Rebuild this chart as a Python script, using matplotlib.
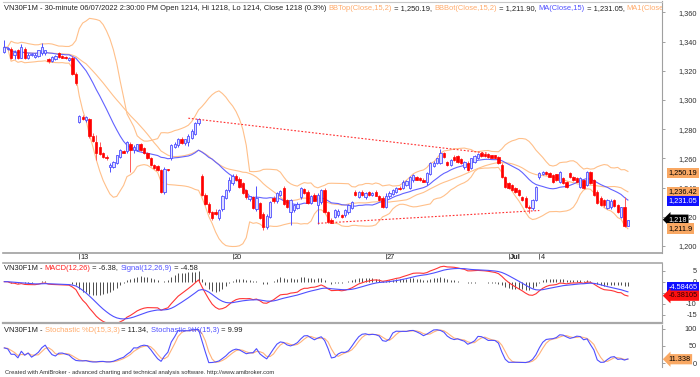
import numpy as np
import pandas as pd
import matplotlib
matplotlib.use("Agg")
import matplotlib.pyplot as plt

plt.rcParams['font.family'] = ['Liberation Sans', 'DejaVu Sans']

# trading sessions on screen (the first one only partly) and 30-minute bars per session
days = ["Jun 8", "Jun 9", "Jun 10", "Jun 13", "Jun 14", "Jun 15", "Jun 16", "Jun 17",
        "Jun 20", "Jun 21", "Jun 22", "Jun 23", "Jun 24", "Jun 27", "Jun 28", "Jun 29",
        "Jun 30", "Jul 1", "Jul 4", "Jul 5", "Jul 6"]
bars_per_day = [4] + [9] * 20
day_labels = {"Jun 13": "13", "Jun 20": "20", "Jun 27": "27", "Jul 1": "Jul", "Jul 4": "4"}

open_ = [1333, 1335, 1335, 1330.5,
         1334, 1329, 1335, 1329, 1330.5, 1329.5, 1330, 1332, 1332,
         1328, 1327, 1328, 1332, 1330, 1329.5, 1327.5, 1329, 1318,
         1285, 1288.5, 1286, 1287, 1275, 1271, 1268, 1263.7, 1261,
         1254, 1254, 1257, 1261, 1265, 1265, 1269.5, 1265.5, 1266,
         1269.5, 1267, 1263.7, 1260, 1255.5, 1254.5, 1252, 1237, 1252.5,
         1260, 1268, 1269, 1273.5, 1270.5, 1271, 1274, 1277, 1284,
         1248, 1235, 1229, 1223, 1223.5, 1219, 1225, 1233, 1238,
         1243, 1248, 1246, 1243, 1238, 1232, 1233.5, 1225, 1229.5,
         1222, 1213, 1220, 1233, 1230.5, 1235, 1239.7, 1231.5, 1223,
         1224.5, 1226, 1233.5, 1239, 1237, 1229.5, 1235, 1228, 1230,
         1238.5, 1223, 1218, 1220, 1221, 1221.5, 1221, 1223, 1226,
         1237, 1233.5, 1237, 1233.5, 1237, 1235, 1237, 1234, 1233,
         1227, 1234, 1235.5, 1237, 1240, 1239.5, 1242, 1240, 1245,
         1247, 1246.5, 1245.5, 1244, 1249.5, 1255, 1256.8, 1257, 1263.7,
         1257.5, 1255.5, 1261, 1261.6, 1259.5, 1254, 1257, 1253.5, 1257.5,
         1260, 1263.7, 1263, 1263, 1262, 1262, 1261, 1255.5, 1247,
         1243, 1241.8, 1239.7, 1238.3, 1233.5, 1233, 1227, 1226, 1231.5,
         1247, 1249.3, 1251, 1250, 1248.6, 1249, 1244, 1246.5, 1243.8,
         1250, 1247, 1246.5, 1240.5, 1245.2, 1241.8, 1250.7, 1245.2, 1237,
         1233, 1231.5, 1226, 1226.5, 1231.5, 1228, 1220, 1226.7, 1214]

high = [1341, 1336, 1336, 1334,
        1335, 1338, 1336, 1332, 1332, 1332, 1334.5, 1339, 1334.5,
        1329, 1330, 1330.5, 1333, 1331, 1330, 1329.5, 1330, 1319,
        1290, 1289.5, 1289, 1287.5, 1277.5, 1276, 1271, 1264.5, 1262,
        1257, 1258, 1262.5, 1266.5, 1266, 1272, 1271, 1269, 1270,
        1270.5, 1268, 1264.5, 1261, 1256, 1255.5, 1253, 1254, 1253,
        1270, 1271, 1274, 1274.5, 1273.5, 1276.5, 1280, 1285, 1287.5,
        1249, 1236, 1230, 1224, 1225, 1225, 1235, 1239, 1247,
        1249, 1249.5, 1247, 1244, 1239, 1234.5, 1234, 1241, 1230,
        1223, 1222, 1231, 1234, 1237, 1238, 1241, 1232.5, 1232,
        1229, 1230, 1240.5, 1240, 1238, 1235, 1236.5, 1236, 1239,
        1239.5, 1224, 1219, 1225.5, 1225, 1222, 1225, 1229, 1231,
        1238.5, 1237.5, 1238, 1237, 1237.5, 1237, 1238, 1235, 1234,
        1236, 1237.5, 1239, 1240.5, 1241, 1245, 1245.5, 1248, 1249.5,
        1248, 1247.5, 1246.5, 1251, 1257.5, 1258, 1260.5, 1266.4, 1264.5,
        1258.5, 1259.5, 1262, 1262.5, 1260, 1258.5, 1258, 1260.5, 1262,
        1264, 1264.5, 1264, 1263.5, 1262.5, 1262.5, 1261.5, 1256.5, 1248,
        1244, 1242.5, 1240.5, 1239, 1234.5, 1234, 1228, 1232, 1241,
        1251, 1251.5, 1251.5, 1250.5, 1249.5, 1249.5, 1251.5, 1247.5, 1244.5,
        1250.5, 1248, 1247, 1247, 1246, 1251.5, 1251.5, 1246, 1238,
        1234, 1232, 1232, 1232, 1232, 1228.5, 1227, 1233.5, 1218]

low = [1332, 1334, 1328, 1328,
       1328, 1328.5, 1328, 1328, 1330, 1329, 1329.5, 1331, 1331,
       1325.5, 1326, 1327.5, 1329, 1328.5, 1328, 1327, 1317, 1310.5,
       1284, 1286.5, 1285, 1274, 1271, 1259, 1262, 1260.5, 1259,
       1251, 1253.5, 1256, 1260, 1263.5, 1264, 1251, 1264, 1265,
       1265, 1263, 1259.5, 1255, 1253, 1251.5, 1236.5, 1235.5, 1251.5,
       1259, 1267, 1268, 1270, 1269, 1268.5, 1273.5, 1276, 1283,
       1234.5, 1228, 1222, 1217.5, 1221, 1218, 1224, 1232, 1237,
       1242, 1244.5, 1240, 1235.5, 1232.5, 1231, 1225.5, 1224, 1218.5,
       1211, 1211.5, 1219, 1229.5, 1229.5, 1234, 1228, 1226, 1214.5,
       1223, 1225, 1232.5, 1235.5, 1228.5, 1228.5, 1230.5, 1215, 1229,
       1222.5, 1216, 1215.5, 1219, 1220, 1219, 1220, 1222, 1225,
       1234.5, 1233, 1234.5, 1232.5, 1234.5, 1234, 1234, 1231, 1226,
       1226, 1233, 1235, 1236, 1238.5, 1239, 1241, 1239, 1244,
       1245, 1244.5, 1243.5, 1242, 1248.5, 1254, 1256, 1256, 1260.5,
       1255, 1255, 1258.5, 1257, 1256, 1253, 1251.5, 1253, 1257,
       1259.5, 1261, 1261, 1260.5, 1260, 1259.5, 1256, 1246.5, 1240,
       1239, 1237.5, 1236.5, 1234.5, 1231, 1226, 1222.5, 1224.5, 1230.5,
       1246, 1248.5, 1248.5, 1247, 1243, 1244.5, 1243, 1242.5, 1240,
       1246.5, 1244.5, 1243.5, 1240, 1239, 1241, 1242.5, 1234.5, 1229,
       1227.5, 1227, 1225, 1225.5, 1227, 1222.5, 1219, 1213, 1214]

close = [1336, 1335.5, 1328.5, 1333,
         1328.5, 1336, 1328.5, 1331, 1331.3, 1331, 1334, 1336.5, 1334,
         1326.5, 1329.4, 1329.8, 1329.6, 1329, 1328.5, 1328.5, 1318, 1311.5,
         1289, 1287, 1288, 1275, 1272, 1264, 1263, 1261, 1260.5,
         1255.5, 1257.5, 1262, 1265.5, 1264, 1271, 1265.5, 1268, 1269.5,
         1266, 1263.7, 1260, 1255.5, 1253.5, 1252, 1237, 1253, 1252,
         1269, 1270, 1273.5, 1270.5, 1273, 1275.5, 1279, 1284, 1287,
         1235, 1229, 1223, 1219, 1222, 1224.5, 1234, 1238, 1245.5,
         1248, 1245, 1240.5, 1236, 1233.5, 1234, 1226, 1233, 1219.5,
         1213, 1220.5, 1230, 1230.5, 1236.5, 1237.5, 1228.5, 1227, 1231.5,
         1228, 1229, 1239.7, 1236, 1229.5, 1234, 1231, 1235, 1238,
         1223, 1216.5, 1216, 1224.6, 1224, 1220, 1224.6, 1228, 1230,
         1235, 1237, 1235, 1236, 1235, 1236, 1234.5, 1231.5, 1227,
         1234.5, 1236.5, 1238, 1239.7, 1239, 1244, 1244.5, 1247, 1248.6,
         1245.5, 1245, 1244, 1250, 1256.8, 1257, 1260, 1263.7, 1261,
         1255.5, 1258.9, 1259, 1257.5, 1256.8, 1257.5, 1252, 1260, 1261.6,
         1263, 1261.6, 1261.5, 1261, 1260.5, 1260, 1256.8, 1247, 1240.4,
         1239.7, 1238.3, 1237, 1235, 1231.5, 1226.7, 1226, 1231.5, 1240.4,
         1250, 1250.7, 1249, 1247.5, 1243.8, 1245, 1250.7, 1243, 1240.4,
         1247, 1245.2, 1243.8, 1246.5, 1239.7, 1250.7, 1243, 1235, 1229.4,
         1228, 1228, 1231.5, 1231, 1227.5, 1223, 1226.7, 1213.7, 1218]

# hand drawn trend lines (bar number, price)
trend_hi_bars, trend_hi_prices = [54, 142], [1287.5, 1263.5]
trend_lo_bars, trend_lo_prices = [92, 157], [1215.5, 1224.3]

# values printed by AmiBroker in titles and axis tags
bb_top_last, bb_bot_last = 1250.19, 1211.90
ma15_last, ma1_last = 1231.05, 1236.42
macd_last, signal_last = -6.38105, -4.58465
stoch_d_last, stoch_k_last = 11.338, 9.99

W, H = 700, 377
fig = plt.figure(figsize=(W / 100, H / 100), dpi=100)


def add_panel(top, bottom):
    return fig.add_axes([3 / W, 1 - bottom / H, 659 / W, (bottom - top) / H])


ax1 = add_panel(1.5, 253)
ax2 = add_panel(263, 323)
ax3 = add_panel(325, 367)

o = np.array(open_)
h = np.array(high)
l = np.array(low)
c = np.array(close)
x = np.arange(len(c))

BLUE = '#4f4fff'
RED = '#ff1a1a'
ORANGE = '#ffc08a'
FS = 5.3
TITLE_FS = 5.45

# ---- indicators
cs = pd.Series(c)
ma15 = cs.rolling(15, min_periods=1).mean()
sd15 = cs.rolling(15, min_periods=1).std(ddof=0)
bb_top = ma15 + 2 * sd15
bb_bot = ma15 - 2 * sd15
ma1 = cs.rolling(25, min_periods=1).mean()
macd = cs.ewm(span=12, adjust=False).mean() - cs.ewm(span=26, adjust=False).mean()
signal = macd.ewm(span=9, adjust=False).mean()
hist = macd - signal
ll = pd.Series(l).rolling(15, min_periods=1).min()
hh = pd.Series(h).rolling(15, min_periods=1).max()
stoch_k = 100 * (cs - ll).rolling(3, min_periods=1).sum() / (hh - ll).rolling(3, min_periods=1).sum()
stoch_d = stoch_k.rolling(3, min_periods=1).mean()

# ---- price pane
up = c >= o
ax1.plot(x, bb_top, color=ORANGE, lw=0.8, zorder=1)
ax1.plot(x, bb_bot, color=ORANGE, lw=0.8, zorder=1)
ax1.plot(x, ma1, color=ORANGE, lw=0.8, zorder=1)
ax1.plot(x, ma15, color='#6262ff', lw=0.8, zorder=1.5)
ax1.vlines(x[up], l[up], h[up], color=BLUE, lw=0.7, zorder=2)
ax1.vlines(x[~up], l[~up], h[~up], color='#ff5a5a', lw=0.7, zorder=2)
ax1.bar(x[up], (c - o)[up], bottom=o[up], width=0.68, color='#dedeff',
        edgecolor=BLUE, linewidth=0.6, zorder=3)
ax1.bar(x[~up], (o - c)[~up], bottom=c[~up], width=0.68, color='#ff0000',
        edgecolor='#ff0000', linewidth=0.5, zorder=3)
ax1.plot(trend_hi_bars, trend_hi_prices, color='#ff3030', lw=0.8, ls=(0, (1.6, 1.6)), zorder=4)
ax1.plot(trend_lo_bars, trend_lo_prices, color='#ff3030', lw=0.8, ls=(0, (1.6, 1.6)), zorder=4)
ax1.set_ylim(1195.2, 1367.4)
ax1.set_yticks(range(1200, 1361, 20))
ax1.set_yticklabels([f"{v:,}" for v in range(1200, 1361, 20)])

# ---- MACD pane
ax2.vlines(x, 0, hist, color='#303030', lw=0.6)
ax2.plot(x, macd, color='#ff3535', lw=0.8)
ax2.plot(x, signal, color=BLUE, lw=0.8)
ax2.set_ylim(-18.8, 8.5)
ax2.set_yticks([5, 0, -5, -10, -15])
ax2.set_yticklabels(["5", "0", "-5", "-10", "-15"])

# ---- stochastic pane
ax3.plot(x, stoch_d, color='#ffb27a', lw=0.8)
ax3.plot(x, stoch_k, color=BLUE, lw=0.8)
ax3.set_ylim(-11.4, 111.4)
ax3.set_yticks([100, 50, 0])
ax3.set_yticklabels(["100", "50", "0"])

for ax in (ax1, ax2, ax3):
    ax.set_xlim(-0.38, 193.0)
    ax.yaxis.tick_right()
    ax.tick_params(axis='y', direction='out', length=2.5, width=0.6, color='#909090',
                   labelsize=FS, labelcolor='#303030', pad=22.6)
    for t in ax.get_yticklabels():
        t.set_horizontalalignment('right')
    ax.tick_params(axis='x', bottom=False, labelbottom=False)
    for side in ('left', 'top', 'bottom'):
        ax.spines[side].set_visible(False)
    ax.spines['right'].set_color('#a0a0a0')
    ax.spines['right'].set_linewidth(0.8)

ax1.spines['top'].set_visible(True)
ax1.spines['top'].set_color('#c8c8c8')
ax1.spines['bottom'].set_visible(True)
ax1.spines['bottom'].set_color('#a0a0a0')
ax1.spines['bottom'].set_linewidth(1.2)
ax2.spines['top'].set_visible(True)
ax2.spines['top'].set_color('#a8a8a8')
ax2.spines['top'].set_linewidth(1.2)
ax2.spines['bottom'].set_visible(True)
ax2.spines['bottom'].set_color('#a8a8a8')
ax2.spines['bottom'].set_linewidth(1.6)

# date ticks on first bar of the labelled sessions
starts = np.cumsum([0] + bars_per_day[:-1])
tick_pos = [starts[days.index(d)] for d in day_labels]
ax1.set_xticks(tick_pos)
ax1.tick_params(axis='x', bottom=True, labelbottom=False, direction='out',
                length=4.5, width=0.6, color='#505050')
for d, pos in zip(day_labels, tick_pos):
    lab = day_labels[d]
    ax1.annotate(lab, xy=(pos, 0), xycoords=ax1.get_xaxis_transform(),
                 xytext=(0.8, -0.6), textcoords='offset points', ha='left', va='top',
                 fontsize=FS, color='#202020',
                 fontweight='bold' if lab == 'Jul' else 'normal', annotation_clip=False)

renderer = fig.canvas.get_renderer()


def text_width(s, size):
    t = fig.text(0, 0, s, fontsize=size)
    w = t.get_window_extent(renderer).width
    t.remove()
    return w


def rainbow(ax, x_px, y_px, parts, size, clip=False):
    bb = ax.get_position()
    ax_x = (x_px / W - bb.x0) / bb.width
    ax_y = ((1 - y_px / H) - bb.y0) / bb.height
    prefix = ""
    for s, col in parts:
        dx = text_width(prefix + "|", size) - text_width("|", size) if prefix else 0
        ax.annotate(s, xy=(ax_x, ax_y), xycoords='axes fraction', xytext=(dx * 0.72, 0),
                    textcoords='offset points', fontsize=size, color=col, ha='left',
                    va='center', clip_on=clip, annotation_clip=False, zorder=10)
        prefix += s


DARK = '#202020'
TORANGE = '#ffaa6a'
rainbow(ax1, 4, 8.5, [
    ("VN30F1M - 30-minute 06/07/2022 2:30:00 PM Open 1214, Hi 1218, Lo 1214, Close 1218 (0.3%) ", DARK),
    ("BBTop(Close,15,2)", TORANGE), (f" = {bb_top_last:,.2f}, ", DARK),
    ("BBBot(Close,15,2)", TORANGE), (f" = {bb_bot_last:,.2f}, ", DARK),
    ("MA(Close,15)", BLUE), (f" = {ma15_last:,.2f}, ", DARK),
    ("MA1(Close,25)", TORANGE), (f" = {ma1_last:,.2f}", DARK)], TITLE_FS, clip=True)
rainbow(ax2, 4, 268, [("VN30F1M - ", DARK), ("MACD(12,26)", '#ff2020'),
                      (f" = {macd_last:.2f}, ", DARK), ("Signal(12,26,9)", BLUE),
                      (f" = {signal_last:.2f}", DARK)], 5.4)
rainbow(ax3, 4, 330, [("VN30F1M - ", DARK), ("Stochastic %D(15,3,3)", TORANGE),
                      (f" = {stoch_d_last:.2f}, ", DARK), ("Stochastic %K(15,3)", BLUE),
                      (f" = {stoch_k_last:.2f}", DARK)], 5.4)

fig.text(5 / W, 1 - 372.5 / H,
         "Created with AmiBroker - advanced charting and technical analysis software. http://www.amibroker.com",
         fontsize=4.2, color='#303030', va='center', ha='left')


def tags(ax, items, gap=8.6):
    # items: (value, text, face, textcolor, arrow); the arrow tag stays put, others shift
    ys = {i: ax.transData.transform((0, it[0]))[1] for i, it in enumerate(items)}
    fixed = [i for i, it in enumerate(items) if it[4]][0]
    pos = dict(ys)
    above = sorted([i for i in ys if ys[i] > ys[fixed]], key=lambda i: ys[i])
    prev = ys[fixed]
    for i in above:
        pos[i] = max(ys[i], prev + gap)
        prev = pos[i]
    below = sorted([i for i in ys if ys[i] < ys[fixed]], key=lambda i: -ys[i])
    prev = ys[fixed]
    for i in below:
        pos[i] = min(ys[i], prev - gap)
        prev = pos[i]
    for i, (v, txt, fc, tc, arrow) in enumerate(items):
        ax.annotate(txt, xy=(1, v), xycoords=ax.get_yaxis_transform(),
                    xytext=(4.6, (pos[i] - ys[i]) * 0.72), textcoords='offset points',
                    ha='left', va='center', fontsize=FS, color=tc, annotation_clip=False,
                    zorder=20,
                    bbox=dict(boxstyle=('larrow,pad=0.22' if arrow else 'square,pad=0.22'),
                              fc=fc, ec='none'))


TAG_OR = '#f9a863'
tags(ax1, [(bb_top_last, "1,250.19", TAG_OR, 'black', False),
           (ma1_last, "1,236.42", TAG_OR, 'black', False),
           (ma15_last, "1,231.05", '#1010ff', 'white', False),
           (c[-1], f"{c[-1]:,.0f}", 'black', 'white', True),
           (bb_bot_last, "1,211.9", TAG_OR, 'black', False)])
tags(ax2, [(signal_last, f"{signal_last:.5f}", '#1010ff', 'white', False),
           (macd_last, f"{macd_last:.5f}", '#ff1010', '#300000', True)])
tags(ax3, [(stoch_d_last, f"{stoch_d_last:.3f}", TAG_OR, 'black', True)])

fig.savefig("out.png", dpi=100)
